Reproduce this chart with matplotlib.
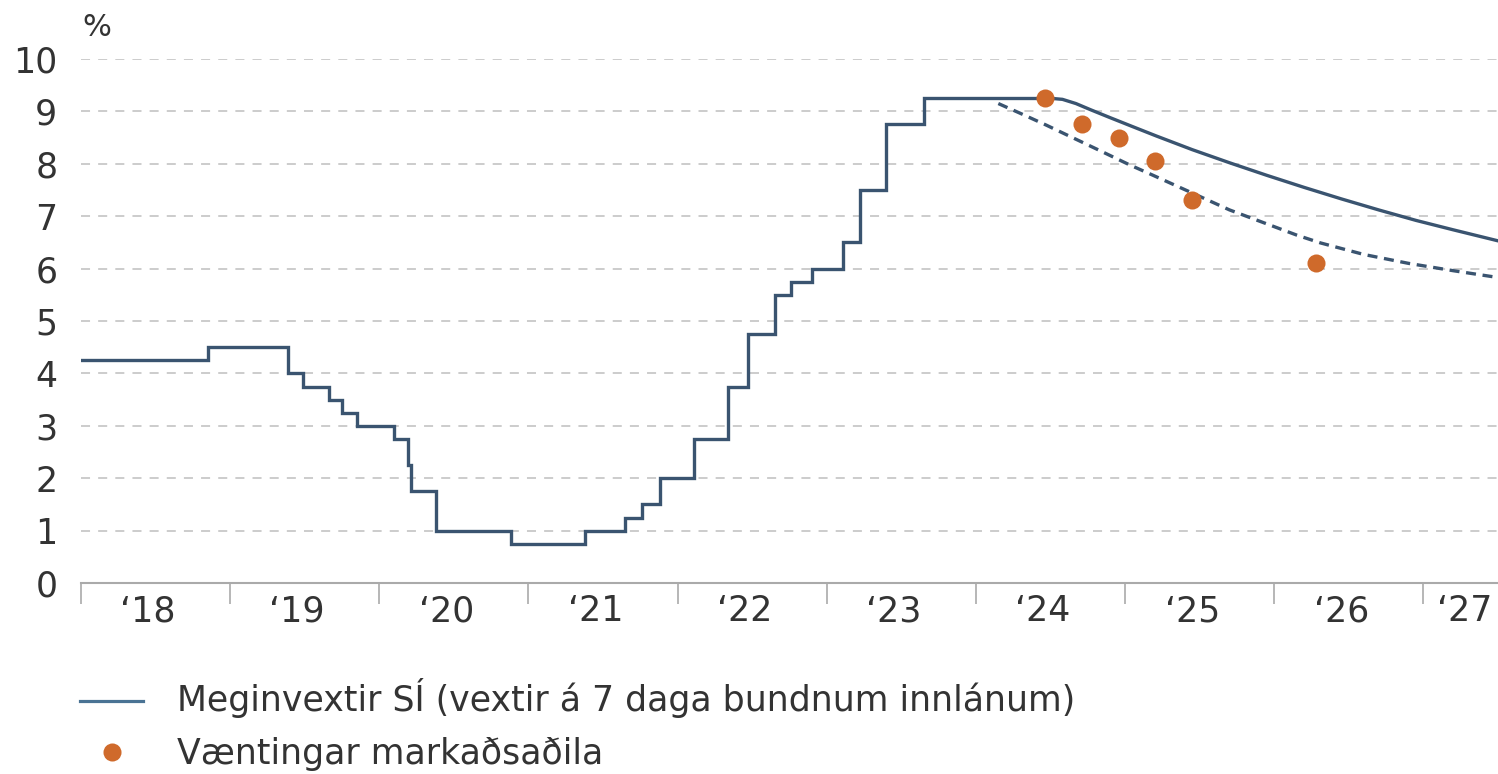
import matplotlib
matplotlib.use("Agg")
import matplotlib.pyplot as plt
from matplotlib.lines import Line2D

plt.rcParams['font.family'] = ['DejaVu Sans']

# Policy rate history (step changes), fractional years
hist_dates = [2018.0, 2018.85, 2019.39, 2019.49, 2019.66, 2019.75, 2019.85,
              2020.10, 2020.19, 2020.21, 2020.38, 2020.88, 2021.38, 2021.65,
              2021.76, 2021.88, 2022.11, 2022.34, 2022.47, 2022.65, 2022.76,
              2022.90, 2023.11, 2023.22, 2023.40, 2023.65, 2024.50]
hist_rates = [4.25, 4.5, 4.0, 3.75, 3.5, 3.25, 3.0,
              2.75, 2.25, 1.75, 1.0, 0.75, 1.0, 1.25,
              1.5, 2.0, 2.75, 3.75, 4.75, 5.5, 5.75,
              6.0, 6.5, 7.5, 8.75, 9.25, 9.25]

# Forecast path (solid)
fc_dates = [2024.50, 2024.58, 2024.67, 2024.77, 2024.90, 2025.05, 2025.21,
            2025.45, 2025.70, 2025.95, 2026.20, 2026.45, 2026.70, 2026.95,
            2027.20, 2027.50]
fc_rates = [9.25, 9.23, 9.15, 9.03, 8.88, 8.71, 8.53,
            8.27, 8.02, 7.78, 7.55, 7.33, 7.12, 6.92,
            6.74, 6.53]

# Alternative path (dashed)
alt_dates = [2024.15, 2024.30, 2024.47, 2024.64, 2024.81, 2025.03, 2025.18,
             2025.46, 2025.70, 2026.00, 2026.15, 2026.31, 2026.60, 2026.90,
             2027.20, 2027.50]
alt_rates = [9.15, 8.96, 8.74, 8.51, 8.28, 7.98, 7.79,
             7.43, 7.12, 6.80, 6.64, 6.49, 6.27, 6.10,
             5.96, 5.83]

# Market expectations
exp_dates = [2024.46, 2024.71, 2024.96, 2025.20, 2025.45, 2026.28]
exp_rates = [9.25, 8.75, 8.50, 8.05, 7.30, 6.10]

years = list(range(2018, 2028))
year_labels = ["\u201818", "\u201819", "\u201820", "\u201821", "\u201822",
               "\u201823", "\u201824", "\u201825", "\u201826", "\u201827"]
label_pos = [2018.45, 2019.45, 2020.45, 2021.45, 2022.45, 2023.45,
             2024.45, 2025.45, 2026.45, 2027.28]
yticks = list(range(0, 11))

line_col = "#3a5470"
dot_col = "#cf6a2b"
text_col = "#333333"
fs = 25

fig = plt.figure(figsize=(14.98, 7.74), dpi=100)
ax = fig.add_axes([81 / 1498, 1 - 583 / 774, 1 - 81 / 1498, (583 - 59) / 774])

ax.set_xlim(2018, 2027.5)
ax.set_ylim(0, 10)

ax.plot(hist_dates, hist_rates, drawstyle="steps-post", color=line_col,
        lw=2.4, solid_joinstyle="miter", zorder=3)
ax.plot(fc_dates, fc_rates, color=line_col, lw=2.4, zorder=3)
ax.plot(alt_dates, alt_rates, color=line_col, lw=2.4, dashes=(3, 2), zorder=3)
ax.plot(exp_dates, exp_rates, linestyle="none", marker="o", ms=13,
        color=dot_col, markeredgewidth=0, zorder=4)

# grid
ax.set_yticks(yticks)
ax.yaxis.grid(True, color="#c8c8c8", lw=1.3, dashes=(5, 4.5))
ax.set_axisbelow(True)
ax.tick_params(axis="y", length=0, pad=17, labelsize=fs, labelcolor=text_col)

# x ticks
ax.set_xticks(years)
ax.set_xticklabels([])
ax.set_xticks(label_pos, minor=True)
ax.set_xticklabels(year_labels, minor=True)
ax.tick_params(axis="x", which="major", length=15, width=1.2, color="#aaaaaa")
ax.tick_params(axis="x", which="minor", length=0, pad=8, labelsize=fs,
               labelcolor=text_col)

for s in ["top", "right", "left"]:
    ax.spines[s].set_visible(False)
ax.spines["bottom"].set_color("#aaaaaa")
ax.spines["bottom"].set_linewidth(1.5)

fig.text(97 / 1498, 1 - 28 / 774, "%", fontsize=22, color=text_col,
         ha="center", va="center")

# legend (manual)
fig.add_artist(Line2D([80 / 1498, 143 / 1498], [1 - 701 / 774, 1 - 701 / 774],
                      color="#4a7394", lw=2.3))
fig.text(177 / 1498, 1 - 698 / 774,
         "Meginvextir SÍ (vextir á 7 daga bundnum innlánum)",
         fontsize=fs, color=text_col, ha="left", va="center")
fig.add_artist(Line2D([112 / 1498], [1 - 752 / 774], marker="o", ms=13,
                      color=dot_col, markeredgewidth=0, linestyle="none"))
fig.text(177 / 1498, 1 - 754 / 774, "Væntingar markaðsaðila",
         fontsize=fs, color=text_col, ha="left", va="center")

fig.savefig("out.png", dpi=100)
